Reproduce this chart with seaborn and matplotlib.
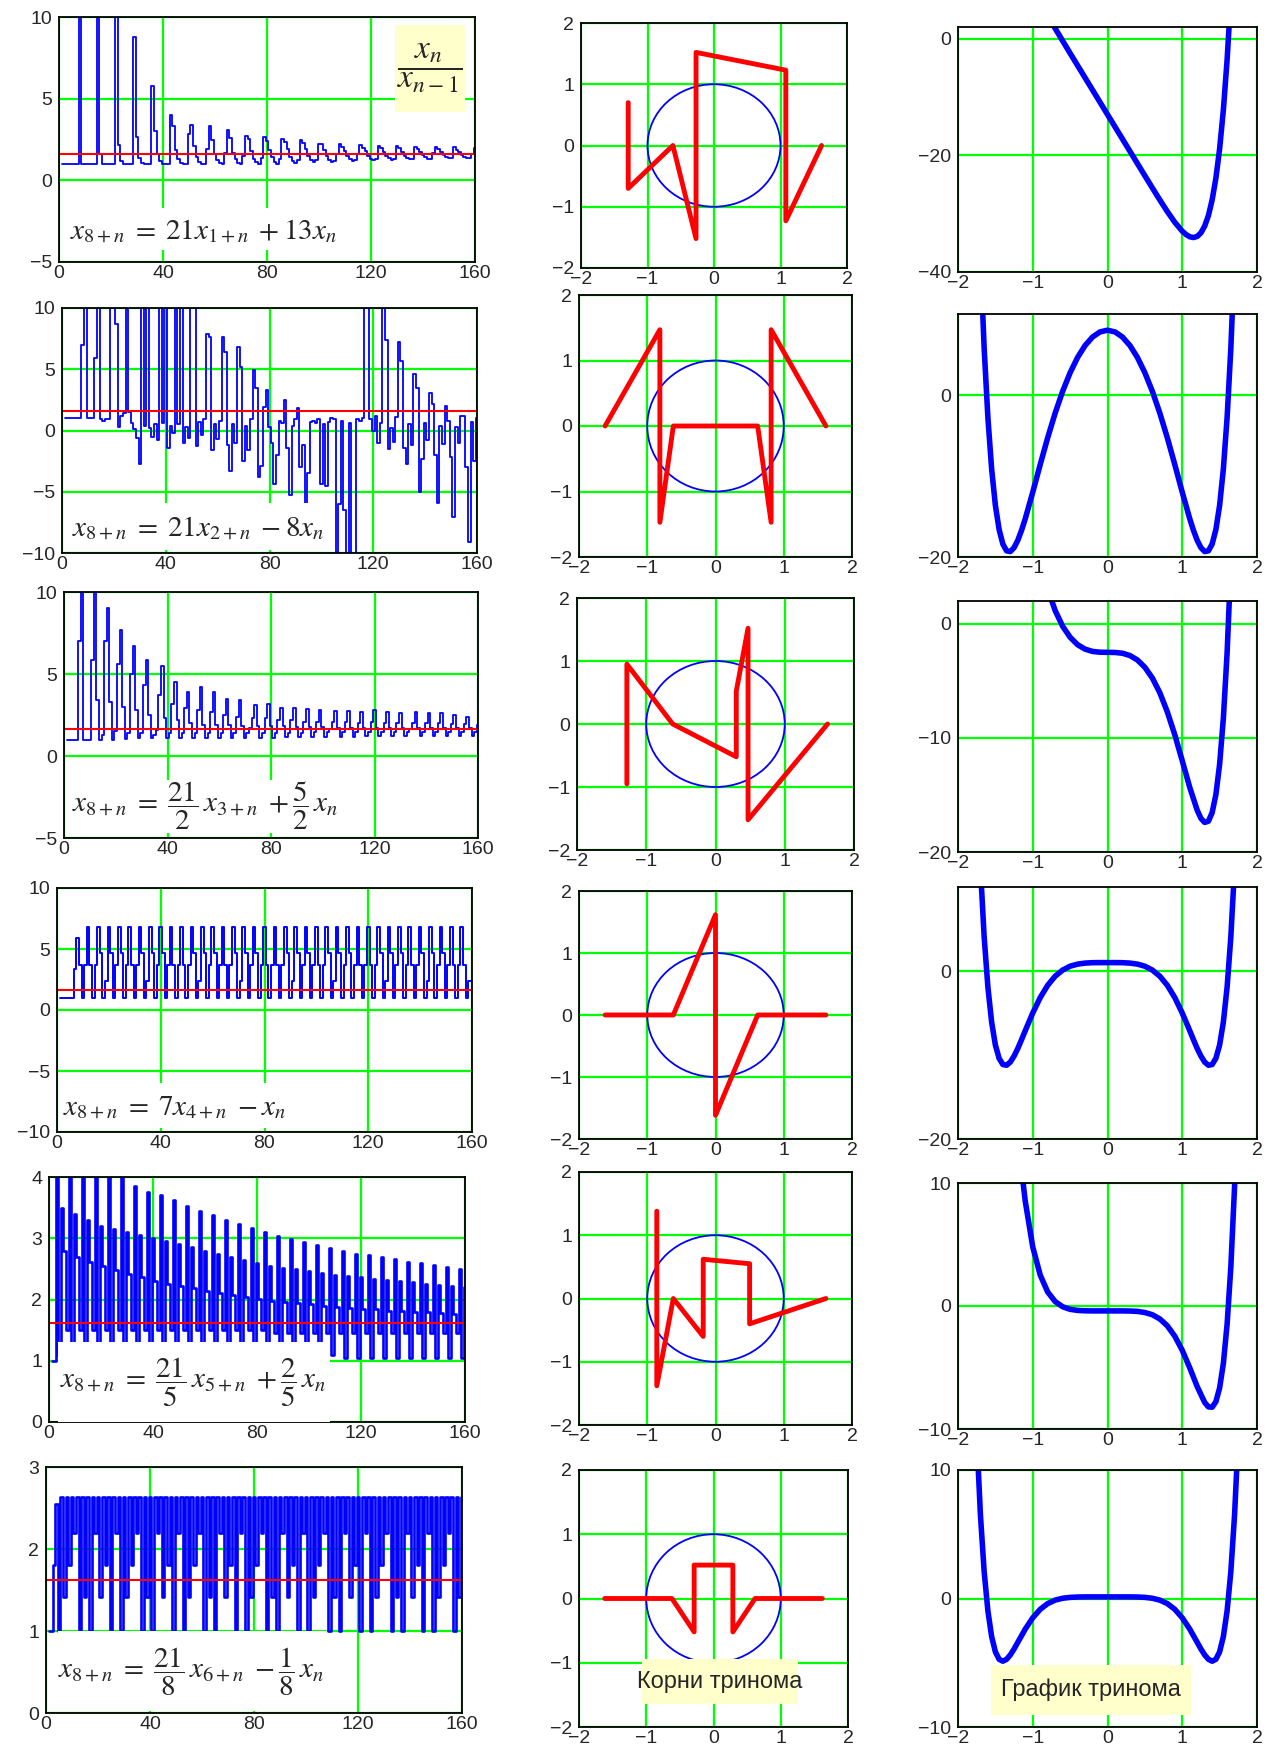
import seaborn as sns
import matplotlib.pyplot as plt
from matplotlib.patches import Rectangle, Circle

sns.set_style('white')
plt.rcParams['font.family'] = ['Liberation Sans', 'DejaVu Sans']
plt.rcParams['mathtext.fontset'] = 'stix'

W, H = 1275, 1746
BLUE, RED, GREEN = '#0000ff', '#ff0000', '#00ff00'
YELLOW = '#ffffcc'
GOLD = 1.618

# ---- left column: x_n / x_(n-1), n = 1..160 ----
N = list(range(1, 161))

S1 = [1, 1, 1, 1, 1, 1, 1, 34, 1, 1,
      1, 1, 1, 1, 21.4, 1.59, 1, 1, 1, 1,
      1, 13.6, 2.15, 1.17, 1, 1, 1, 1, 8.78, 2.65,
      1.39, 1.06, 1, 1, 1, 5.80, 3.05, 1.62, 1.16, 1.02,
      1, 1, 3.97, 3.32, 1.87, 1.29, 1.07, 1.01, 1, 2.83,
      3.40, 2.10, 1.45, 1.14, 1.03, 1.0, 1.9, 3.30, 2.45, 1.60,
      1.22, 1.06, 1.0, 1.7, 3.10, 2.60, 1.70, 1.28, 1.08, 1.02,
      1.5, 2.69, 2.55, 1.80, 1.32, 1.10, 1.02, 1.35, 2.65, 2.40,
      1.85, 1.40, 1.15, 1.03, 1.3, 2.55, 2.35, 1.90, 1.45, 1.18,
      1.06, 1.25, 2.49, 2.30, 1.90, 1.48, 1.22, 1.10, 1.25, 2.24,
      2.20, 1.88, 1.50, 1.27, 1.15, 1.2, 1.6, 2.20, 2.05, 1.80,
      1.52, 1.30, 1.18, 1.22, 1.6, 2.14, 2.00, 1.78, 1.52, 1.32,
      1.22, 1.28, 2.10, 1.98, 1.75, 1.52, 1.35, 1.26, 1.30, 2.10,
      1.95, 1.74, 1.52, 1.37, 1.28, 1.3, 2.04, 1.92, 1.72, 1.53,
      1.40, 1.31, 1.33, 1.65, 2.04, 1.90, 1.72, 1.55, 1.42, 1.34,
      1.35, 2.02, 1.88, 1.72, 1.55, 1.43, 1.36, 1.38, 1.60, 1.95]

S2 = [1, 1, 1, 1, 1, 1, 1, 7.0, 14, 1.0,
      1.0, 1.0, 5.9, 15, 0.9, 0.8, 0.9, 0.9, 12, 12,
      8.7, 0.3, 1.2, 1.4, 13, 1.5, 0.6, 0.1, -0.6, -2.7,
      12, 0.4, 12, 0.2, -0.5, 0.5, -0.8, 12, 0.6, 12,
      -1.4, 0.4, -0.2, 12, 0.5, 12, -1.0, 0.3, -0.6, 12,
      12, -1.3, 0.7, -0.4, 0.9, 7.9, 7.6, -1.6, 0.5, -0.7,
      0.8, 7.6, 6.4, -1.2, -3.3, 0.5, -1.0, 6.8, 5.2, -2.5,
      0.4, -1.6, 0.9, 4.9, 3.5, -3.8, -2.9, 1.9, 3.3, 0.3,
      -1.0, -4.4, -2.0, 0.8, 0.6, 2.5, -1.4, -5.3, 0.4, 0.9,
      1.8, -3.0, -1.2, -6.0, -3.5, 0.7, 0.8, 0.6, 0.9, -4.4,
      0.5, -4.5, 0.7, 1.0, 0.9, -12, -6, 0.8, -6.5, -12,
      0.6, -12, -12, 0.9, 0.8, 1.0, 12, 12, 0.9, 0.0,
      1.2, -1.0, 0.6, 12, 7.4, -1.5, 0.2, -0.9, 1.1, 7.2,
      5.7, -1.4, -2.7, 0.5, -1.2, 4.6, 3.5, -5.0, -2.3, 0.6,
      -0.8, 3.1, 2.2, -2.0, -5.9, 0.4, -1.1, 2.0, 0.8, -2.2,
      -7.1, 0.3, -1.0, 1.2, 1.2, -3.0, -9.1, 0.7, -2.5, 1.0]

S3 = [1, 1, 1, 1, 1, 7.0, 14, 1.0, 1.0, 1.0,
      5.85, 13, 3.4, 1.0, 1.3, 7.0, 9.0, 3.3, 1.0, 1.5,
      5.6, 7.7, 3.0, 1.05, 1.4, 5.0, 6.7, 2.8, 1.1, 1.4,
      4.3, 5.85, 2.5, 1.1, 1.3, 1.6, 3.7, 5.5, 2.3, 1.1,
      1.4, 3.2, 4.5, 2.2, 1.1, 1.4, 2.9, 3.9, 2.0, 1.1,
      1.4, 2.8, 4.2, 1.9, 1.1, 1.4, 2.7, 3.9, 1.9, 1.1,
      1.4, 2.5, 3.5, 1.9, 1.1, 1.4, 2.4, 3.4, 1.85, 1.1,
      1.4, 1.7, 2.3, 3.1, 1.8, 1.1, 1.4, 2.3, 3.2, 1.8,
      1.1, 1.4, 2.2, 2.9, 1.8, 1.15, 1.4, 2.2, 2.9, 1.75,
      1.15, 1.4, 2.1, 2.85, 1.75, 1.15, 1.45, 2.1, 2.8, 1.75,
      1.15, 1.45, 1.65, 2.1, 2.75, 1.7, 1.15, 1.45, 2.1, 2.75,
      1.7, 1.15, 1.45, 2.0, 2.7, 1.7, 1.2, 1.45, 2.05, 2.8,
      1.7, 1.2, 1.45, 2.0, 2.7, 1.7, 1.2, 1.45, 2.0, 2.65,
      1.7, 1.2, 1.45, 1.65, 2.0, 2.7, 1.7, 1.2, 1.45, 2.0,
      2.65, 1.7, 1.2, 1.45, 2.0, 2.6, 1.7, 1.2, 1.45, 1.95,
      2.5, 1.7, 1.2, 1.45, 1.95, 2.4, 1.7, 1.2, 1.45, 1.9]

S4 = [1.0, 1.0, 1.0, 1.0, 1.0, 1.0, 3.4, 5.9,
      3.7, 1.0, 3.7, 6.8, 3.7, 1.0, 3.7, 6.8,
      4.7, 1.0, 2.4, 6.8, 4.7, 1.0, 3.7, 6.8,
      4.7, 1.0, 3.7, 6.8, 3.7, 1.0, 3.7, 6.8,
      4.7, 1.0, 2.4, 6.8, 4.7, 1.0, 3.7, 6.8,
      4.7, 1.0, 3.7, 6.8, 3.7, 1.0, 3.7, 6.8,
      3.7, 1.0, 3.7, 6.8, 4.7, 1.0, 2.4, 6.8,
      4.7, 1.0, 3.7, 6.8, 4.7, 1.0, 3.7, 6.8,
      3.7, 1.0, 3.7, 6.8, 4.7, 1.0, 2.4, 6.8,
      4.7, 1.0, 3.7, 6.8, 4.7, 1.0, 3.7, 6.8,
      3.7, 1.0, 3.7, 6.8, 3.7, 1.0, 3.7, 6.8,
      4.7, 1.0, 2.4, 6.8, 4.7, 1.0, 3.7, 6.8,
      4.7, 1.0, 3.7, 6.8, 3.7, 1.0, 3.7, 6.8,
      4.7, 1.0, 2.4, 6.8, 4.7, 1.0, 3.7, 6.8,
      4.7, 1.0, 3.7, 6.8, 3.7, 1.0, 3.7, 6.8,
      3.7, 1.0, 3.7, 6.8, 4.7, 1.0, 2.4, 6.8,
      4.7, 1.0, 3.7, 6.8, 4.7, 1.0, 3.7, 6.8,
      3.7, 1.0, 3.7, 6.8, 4.7, 1.0, 2.4, 6.8,
      4.7, 1.0, 3.7, 6.8, 4.7, 1.0, 3.7, 6.8,
      3.7, 1.0, 3.7, 6.8, 3.7, 1.0, 2.4, 2.4]

S5 = [1.0, 1.0,
      4.5, 1.1, 3.5, 2.8, 1.5, 4.5, 1.1, 3.4, 2.7, 1.5,
      4.5, 1.1, 3.3, 2.62, 1.5, 4.5, 1.1, 3.2, 2.55, 1.5,
      4.5, 1.1, 3.15, 2.48, 1.5, 4.2, 1.1, 3.1, 2.42, 1.5,
      3.85, 1.1, 3.05, 2.36, 1.5, 3.76, 1.1, 3.0, 2.3, 1.5,
      3.70, 1.1, 2.95, 2.26, 1.5, 3.62, 1.1, 2.9, 2.22, 1.5,
      3.53, 1.1, 2.85, 2.18, 1.5, 3.45, 1.1, 2.8, 2.14, 1.5,
      3.38, 1.1, 2.75, 2.1, 1.5, 3.30, 1.1, 2.7, 2.07, 1.5,
      3.23, 1.1, 2.65, 2.04, 1.5, 3.16, 1.1, 2.6, 2.01, 1.5,
      3.10, 1.1, 2.55, 1.98, 1.45, 3.04, 1.1, 2.52, 1.96, 1.45,
      2.99, 1.1, 2.49, 1.94, 1.45, 2.94, 1.1, 2.46, 1.92, 1.45,
      2.89, 1.1, 2.43, 1.9, 1.45, 2.84, 1.1, 2.4, 1.88, 1.45,
      2.79, 1.05, 2.38, 1.86, 1.45, 2.75, 1.05, 2.36, 1.85, 1.45,
      2.72, 1.05, 2.34, 1.84, 1.45, 2.69, 1.05, 2.32, 1.82, 1.45,
      2.66, 1.05, 2.3, 1.81, 1.45, 2.62, 1.05, 2.28, 1.8, 1.45,
      2.59, 1.05, 2.26, 1.79, 1.45, 2.56, 1.05, 2.24, 1.78, 1.45,
      2.53, 1.05, 2.22, 1.77, 1.45,
      2.50, 1.05, 2.2]

S6 = [1.0, 1.0, 1.8, 2.55,
      1.0, 2.63, 1.42, 2.63, 1.8, 2.63, 2.2, 2.63, 1.0, 2.63, 1.42, 2.63,
      1.0, 2.63, 2.2, 2.63, 1.42, 2.63, 1.8, 2.63, 1.0, 2.63, 2.2, 2.63,
      1.0, 2.63, 1.42, 2.63, 1.8, 2.63, 2.2, 2.63, 1.0, 2.63, 1.42, 2.63,
      1.0, 2.63, 2.2, 2.63, 1.42, 2.63, 1.8, 2.63, 1.0, 2.63, 2.2, 2.63,
      1.0, 2.63, 1.42, 2.63, 1.8, 2.63, 2.2, 2.63, 1.0, 2.63, 1.42, 2.63,
      1.0, 2.63, 2.2, 2.63, 1.42, 2.63, 1.8, 2.63, 1.0, 2.63, 2.2, 2.63,
      1.0, 2.63, 1.42, 2.63, 1.8, 2.63, 2.2, 2.63, 1.0, 2.63, 1.42, 2.63,
      1.0, 2.63, 2.2, 2.63, 1.42, 2.63, 1.8, 2.63, 1.0, 2.63, 2.2, 2.63,
      1.0, 2.63, 1.42, 2.63, 1.8, 2.63, 2.2, 2.63, 1.0, 2.63, 1.42, 2.63,
      1.0, 2.63, 2.2, 2.63, 1.42, 2.63, 1.8, 2.63, 1.0, 2.63, 2.2, 2.63,
      1.0, 2.63, 1.42, 2.63, 1.8, 2.63, 2.2, 2.63, 1.0, 2.63, 1.42, 2.63,
      1.0, 2.63, 2.2, 2.63, 1.42, 2.63, 1.8, 2.63, 1.0, 2.63, 2.2, 2.63,
      1.0, 2.63, 1.42, 2.63, 1.8, 2.63, 2.2, 2.63, 1.0, 2.63, 1.42, 2.63]

# ---- middle column: roots of the trinomial, joined in order of real part ----
R1X = [-1.29, -1.29, -0.618, -0.27, -0.27, 1.08, 1.08, 1.618]
R1Y = [0.70, -0.70, 0.0, -1.52, 1.52, 1.23, -1.23, 0.0]
R2X = [-1.618, -0.815, -0.815, -0.618, 0.618, 0.815, 0.815, 1.618]
R2Y = [0.0, 1.47, -1.47, 0.0, 0.0, -1.47, 1.47, 0.0]
R3X = [-1.28, -1.28, -0.618, 0.30, 0.30, 0.47, 0.47, 1.618]
R3Y = [-0.95, 0.95, 0.0, -0.52, 0.52, 1.52, -1.52, 0.0]
R4X = [-1.618, -0.618, 0.0, 0.0, 0.0, 0.0, 0.618, 1.618]
R4Y = [0.0, 0.0, 1.618, 0.618, -0.618, -1.618, 0.0, 0.0]
R5X = [-0.86, -0.86, -0.618, -0.18, -0.18, 0.50, 0.50, 1.618]
R5Y = [1.38, -1.38, 0.0, -0.60, 0.62, 0.55, -0.40, 0.0]
R6X = [-1.618, -0.618, -0.288, -0.288, 0.288, 0.288, 0.618, 1.618]
R6Y = [0.0, 0.0, -0.52, 0.52, 0.52, -0.52, 0.0, 0.0]

# ---- right column: graph of the trinomial ----
X1 = [-1.0, -0.9, -0.8, -0.7, -0.6, -0.5, -0.4, -0.3, -0.2, -0.1, 0.0,
      0.1, 0.2, 0.3, 0.4, 0.5, 0.6, 0.7, 0.8, 0.9, 1.0,
      1.05, 1.1, 1.15, 1.2, 1.25, 1.3, 1.35, 1.4, 1.45, 1.5, 1.55, 1.6, 1.65, 1.7]
Y1 = [9.0, 6.33, 3.97, 1.76, -0.38, -2.5, -4.6, -6.7, -8.8, -10.9, -13.0,
      -15.1, -17.2, -19.3, -21.4, -23.5, -25.58, -27.64, -29.63, -31.47, -33.0,
      -33.57, -33.96, -34.09, -33.9, -33.29, -32.14, -30.32, -27.64, -23.91, -18.87,
      -12.23, -3.65, 7.3, 21.06]

X2 = [-1.8, -1.7, -1.65, -1.6, -1.55, -1.5, -1.45, -1.4, -1.35, -1.3, -1.25, -1.2,
      -1.15, -1.1, -1.0, -0.9, -0.8, -0.7, -0.6, -0.5, -0.4, -0.3, -0.2, -0.1, 0.0,
      0.1, 0.2, 0.3, 0.4, 0.5, 0.6, 0.7, 0.8, 0.9, 1.0, 1.1, 1.15,
      1.2, 1.25, 1.3, 1.35, 1.4, 1.45, 1.5, 1.55, 1.6, 1.65, 1.7, 1.8]
Y2 = [50.2, 17.07, 5.77, -2.81, -9.13, -13.62, -16.61, -18.4, -19.24, -19.33, -18.85, -17.94,
      -16.71, -15.27, -12.0, -8.58, -5.27, -2.23, 0.46, 2.75, 4.64, 6.11, 7.16, 7.79, 8.0,
      7.79, 7.16, 6.11, 4.64, 2.75, 0.46, -2.23, -5.27, -8.58, -12.0, -15.27, -16.71,
      -17.94, -18.85, -19.33, -19.24, -18.4, -16.61, -13.62, -9.13, -2.81, 5.77, 17.07, 50.2]

X3 = [-1.1, -1.0, -0.9, -0.8, -0.7, -0.6, -0.5, -0.4, -0.3, -0.2, -0.1, 0.0,
      0.1, 0.2, 0.3, 0.4, 0.5, 0.6, 0.7, 0.8, 0.9, 1.0, 1.1, 1.2,
      1.25, 1.3, 1.35, 1.4, 1.45, 1.5, 1.55, 1.6, 1.65, 1.7]
Y3 = [13.6, 9.0, 5.58, 3.04, 1.16, -0.215, -1.18, -1.83, -2.22, -2.42, -2.49, -2.5,
      -2.51, -2.58, -2.78, -3.17, -3.81, -4.75, -6.04, -7.71, -9.72, -12.0, -14.33, -16.34,
      -17.05, -17.41, -17.3, -16.55, -14.97, -12.31, -8.28, -2.55, 5.27, 15.67]

X4 = [-1.75, -1.7, -1.65, -1.6, -1.55, -1.5, -1.45, -1.4, -1.35, -1.3, -1.25, -1.2,
      -1.15, -1.1, -1.0, -0.9, -0.8, -0.7, -0.6, -0.5, -0.4, -0.3, -0.2, -0.1, 0.0,
      0.1, 0.2, 0.3, 0.4, 0.5, 0.6, 0.7, 0.8, 0.9, 1.0, 1.1, 1.15,
      1.2, 1.25, 1.3, 1.35, 1.4, 1.45, 1.5, 1.55, 1.6, 1.65, 1.7, 1.75]
Y4 = [23.3, 12.3, 4.06, -1.93, -6.08, -8.81, -10.4, -11.13, -11.22, -10.84, -10.13, -9.22,
      -8.18, -7.10, -5.0, -3.16, -1.70, -0.62, 0.11, 0.57, 0.82, 0.94, 0.99, 1.0, 1.0,
      1.0, 0.99, 0.94, 0.82, 0.57, 0.11, -0.62, -1.70, -3.16, -5.0, -7.10, -8.18,
      -9.22, -10.13, -10.84, -11.22, -11.13, -10.4, -8.81, -6.08, -1.93, 4.06, 12.3, 23.3]

X5 = [-1.3, -1.25, -1.2, -1.15, -1.1, -1.0, -0.9, -0.8, -0.7, -0.6, -0.5, -0.4,
      -0.3, -0.2, -0.1, 0.0, 0.1, 0.2, 0.3, 0.4, 0.5, 0.6, 0.7, 0.8, 0.9, 1.0,
      1.1, 1.2, 1.3, 1.35, 1.4, 1.45, 1.5, 1.55, 1.6, 1.65, 1.7, 1.75]
Y5 = [23.35, 18.38, 14.35, 11.1, 8.51, 4.8, 2.51, 1.14, 0.36, -0.06, -0.27, -0.36,
      -0.39, -0.40, -0.40, -0.40, -0.40, -0.40, -0.41, -0.44, -0.53, -0.71, -1.05, -1.61, -2.45, -3.6,
      -5.02, -6.55, -7.84, -8.2, -8.23, -7.78, -6.66, -4.67, -1.49, 3.17, 9.72, 18.6]

X6 = [-1.75, -1.7, -1.65, -1.6, -1.55, -1.5, -1.45, -1.4, -1.35, -1.3, -1.25, -1.2,
      -1.1, -1.0, -0.9, -0.8, -0.7, -0.6, -0.5, -0.4, -0.3, -0.2, -0.1, 0.0,
      0.1, 0.2, 0.3, 0.4, 0.5, 0.6, 0.7, 0.8, 0.9, 1.0, 1.1,
      1.2, 1.25, 1.3, 1.35, 1.4, 1.45, 1.5, 1.55, 1.6, 1.65, 1.7, 1.75]
Y6 = [12.7, 6.51, 2.09, -0.97, -2.96, -4.15, -4.73, -4.88, -4.73, -4.39, -3.93, -3.41,
      -2.38, -1.5, -0.84, -0.395, -0.126, 0.019, 0.088, 0.115, 0.123, 0.125, 0.125, 0.125,
      0.125, 0.125, 0.123, 0.115, 0.088, 0.019, -0.126, -0.395, -0.84, -1.5, -2.38,
      -3.41, -3.93, -4.39, -4.73, -4.88, -4.73, -4.15, -2.96, -0.97, 2.09, 6.51, 12.7]

LEFT = [S1, S2, S3, S4, S5, S6]
LEFT_LW = [1.3, 1.3, 1.3, 1.4, 1.9, 1.9]
LEFT_YLIM = [(-5, 10), (-10, 10), (-5, 10), (-10, 10), (0, 4), (0, 3)]
LEFT_YT = [[-5, 0, 5, 10], [-10, -5, 0, 5, 10], [-5, 0, 5, 10],
           [-10, -5, 0, 5, 10], [0, 1, 2, 3, 4], [0, 1, 2, 3]]
FORMULAS = [r'$x_{8+n}\;=\;21x_{1+n}\;+13x_n$',
            r'$x_{8+n}\;=\;21x_{2+n}\;-8x_n$',
            r'$x_{8+n}\;=\;\dfrac{21}{2}\,x_{3+n}\;+\dfrac{5}{2}\,x_n$',
            r'$x_{8+n}\;=\;7x_{4+n}\;-x_n$',
            r'$x_{8+n}\;=\;\dfrac{21}{5}\,x_{5+n}\;+\dfrac{2}{5}\,x_n$',
            r'$x_{8+n}\;=\;\dfrac{21}{8}\,x_{6+n}\;-\dfrac{1}{8}\,x_n$']
ROOTS = [(R1X, R1Y), (R2X, R2Y), (R3X, R3Y), (R4X, R4Y), (R5X, R5Y), (R6X, R6Y)]
CURVES = [(X1, Y1), (X2, Y2), (X3, Y3), (X4, Y4), (X5, Y5), (X6, Y6)]
RIGHT_YLIM = [(-40, 2), (-20, 10), (-20, 2), (-20, 10), (-10, 10), (-10, 10)]
RIGHT_YT = [[-40, -20, 0], [-20, 0], [-20, -10, 0], [-20, 0], [-10, 0, 10], [-10, 0, 10]]

# panel boxes in pixels: x0, x1, y_top, y_bottom
LEFT_BOX = [(59, 475, 17, 262), (62, 477, 308, 553), (64, 478, 592, 838),
            (57, 472, 888, 1132), (49, 465, 1177, 1422), (46, 462, 1467, 1713)]
MID_BOX = [(581, 847, 23, 268), (579, 852, 295, 557), (577, 854, 598, 850),
           (579, 852, 891, 1139), (579, 852, 1172, 1425), (579, 848, 1470, 1727)]
RIGHT_BOX = [(958, 1257, 27, 272), (958, 1257, 314, 557), (958, 1257, 601, 852),
             (958, 1257, 887, 1139), (958, 1257, 1183, 1429), (958, 1257, 1470, 1727)]
# white formula boxes: x0, y0, x1, y1, text x, text y
FBOX = [(67, 208, 333, 250, 70, 230), (70, 503, 323, 550, 72, 527),
        (70, 780, 343, 833, 72, 806), (60, 1083, 293, 1128, 63, 1106),
        (58, 1342, 330, 1422, 60, 1382), (58, 1631, 327, 1711, 58, 1672)]

fig = plt.figure(figsize=(W / 100, H / 100), dpi=100)
fig.patch.set_facecolor('white')


def make_ax(box):
    x0, x1, yt, yb = box
    return fig.add_axes([x0 / W, 1 - yb / H, (x1 - x0) / W, (yb - yt) / H])


def style(ax, xlim, ylim, xt, yt):
    ax.set_xlim(xlim)
    ax.set_ylim(ylim)
    ax.set_xticks(xt)
    ax.set_yticks(yt)
    ax.grid(True, color=GREEN, linewidth=1.6)
    ax.set_axisbelow(True)
    ax.tick_params(axis='y', length=0, labelsize=14, pad=5)
    ax.tick_params(axis='x', length=0, labelsize=14, pad=2)
    ax.set_xlabel('')
    ax.set_ylabel('')
    for s in ax.spines.values():
        s.set_color('black')
        s.set_linewidth(1.3)


def fbox(x0, y0, x1, y1, color):
    fig.add_artist(Rectangle((x0 / W, 1 - y1 / H), (x1 - x0) / W, (y1 - y0) / H,
                             transform=fig.transFigure, facecolor=color,
                             edgecolor='none', zorder=3))


def ftext(x, y, s, size, **kw):
    fig.text(x / W, 1 - y / H, s, fontsize=size, zorder=4, **kw)


for i in range(6):
    # left: ratio of consecutive terms
    ax = make_ax(LEFT_BOX[i])
    sns.lineplot(x=N, y=LEFT[i], ax=ax, color=BLUE, linewidth=LEFT_LW[i],
                 drawstyle='steps-mid', estimator=None)
    ax.axhline(GOLD, color=RED, linewidth=1.5)
    style(ax, (0, 160), LEFT_YLIM[i], [0, 40, 80, 120, 160], LEFT_YT[i])

    # middle: roots and unit circle
    ax = make_ax(MID_BOX[i])
    ax.add_patch(Circle((0, 0), 1, fill=False, edgecolor=BLUE, linewidth=1.3))
    rx, ry = ROOTS[i]
    sns.lineplot(x=rx, y=ry, ax=ax, color=RED, linewidth=3.5,
                 sort=False, estimator=None)
    style(ax, (-2, 2), (-2, 2), [-2, -1, 0, 1, 2], [-2, -1, 0, 1, 2])

    # right: trinomial graph
    ax = make_ax(RIGHT_BOX[i])
    cx, cy = CURVES[i]
    sns.lineplot(x=cx, y=cy, ax=ax, color=BLUE, linewidth=4, estimator=None)
    style(ax, (-2, 2), RIGHT_YLIM[i], [-2, -1, 0, 1, 2], RIGHT_YT[i])

    bx0, by0, bx1, by1, tx, ty = FBOX[i]
    fbox(bx0, by0, bx1, by1, 'white')
    ftext(tx, ty, FORMULAS[i], 21, ha='left', va='center')

# ratio label in the first panel
fbox(395, 25, 465, 112, YELLOW)
ftext(430, 68, r'$\dfrac{x_n}{x_{n-1}}$', 24, ha='center', va='center')

# captions
fbox(642, 1659, 798, 1704, YELLOW)
ftext(720, 1682, 'Корни тринома', 17, ha='center', va='center',
      family=['Liberation Sans Narrow', 'Liberation Sans', 'DejaVu Sans'])
fbox(991, 1665, 1191, 1715, YELLOW)
ftext(1091, 1690, 'График тринома', 17, ha='center', va='center',
      family=['Liberation Sans Narrow', 'Liberation Sans', 'DejaVu Sans'])

fig.savefig('out.png', dpi=100, facecolor='white')
